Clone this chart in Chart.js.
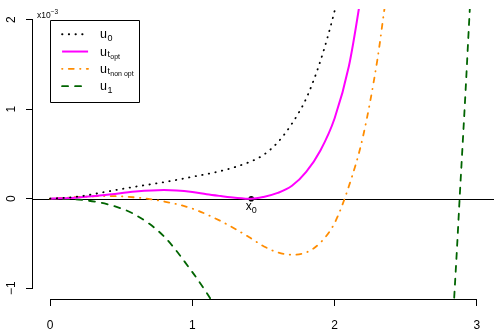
<!DOCTYPE html>
<html>
<head>
<meta charset="utf-8">
<script src="https://cdn.jsdelivr.net/npm/chart.js@4"></script>
<style>
  body { margin: 0; background: #fff; }
  canvas { display: block; }
</style>
</head>
<body>
<canvas id="chart" width="498" height="332"></canvas>
<script>
// values in units of 1e-3
const u0X = [0, 0.2, 0.4, 0.6, 0.8, 1.0, 1.2, 1.4, 1.5, 1.6, 1.7, 1.8, 1.9, 2.0, 2.05];
const u0Y = [0, 0.025, 0.08, 0.135, 0.185, 0.245, 0.31, 0.41, 0.49, 0.63, 0.84, 1.12, 1.54, 2.1, 2.45];

const optX = [0, 0.2, 0.4, 0.6, 0.8, 1.0, 1.1, 1.2, 1.3, 1.414, 1.5, 1.6, 1.7, 1.8, 1.9, 2.0, 2.1, 2.17, 2.2];
const optY = [0, 0.015, 0.045, 0.08, 0.097, 0.075, 0.05, 0.03, 0.012, 0, 0.02, 0.065, 0.145, 0.3, 0.54, 0.9, 1.48, 2.12, 2.45];

const nonOptX = [0, 0.2, 0.4, 0.6, 0.8, 1.0, 1.2, 1.4, 1.5, 1.6, 1.7, 1.8, 1.9, 2.0, 2.1, 2.2, 2.3, 2.35, 2.38];
const nonOptY = [0, 0.02, 0.03, 0.015, -0.03, -0.11, -0.25, -0.43, -0.53, -0.6, -0.625, -0.6, -0.49, -0.27, 0.14, 0.7, 1.55, 2.12, 2.45];

const u1LeftX = [0, 0.2, 0.4, 0.6, 0.8, 1.0, 1.1, 1.16];
const u1LeftY = [0, -0.01, -0.06, -0.18, -0.42, -0.82, -1.05, -1.2];
const u1RightX = [2.835, 2.86, 2.88, 2.9, 2.92, 2.95, 2.96];
const u1RightY = [-1.25, -0.55, 0.05, 0.62, 1.2, 2.12, 2.4];

const x0 = 1.414;

const xTicks = [0, 1, 2, 3];
const yTicks = [-1, 0, 1, 2];

const FONT = '"Liberation Sans", Arial, sans-serif';

function pts(xs, ys) {
  return xs.map((x, i) => ({ x: x, y: ys[i] }));
}

const styles = {
  u0:  { color: '#000000', width: 1.8, dash: [0.4, 6.3], cap: 'round' },
  opt: { color: '#FF00FF', width: 2, dash: [], cap: 'butt' },
  non: { color: '#FF8C00', width: 1.8, dash: [0.4, 6.3, 5, 6.3], cap: 'round' },
  u1:  { color: '#006400', width: 1.8, dash: [6, 7], cap: 'round' }
};

function lineSet(data, s) {
  return {
    data: data,
    borderColor: s.color,
    borderWidth: s.width,
    borderDash: s.dash,
    borderCapStyle: s.cap,
    pointRadius: 0,
    cubicInterpolationMode: 'monotone',
    fill: false
  };
}

const legendItems = [
  { s: styles.u0, sub: '0', subsub: null },
  { s: styles.opt, sub: 't', subsub: 'opt' },
  { s: styles.non, sub: 't', subsub: 'non opt' },
  { s: styles.u1, sub: '1', subsub: null }
];

const decor = {
  id: 'decor',
  beforeDatasetsDraw(chart) {
    const ctx = chart.ctx, a = chart.chartArea, ys = chart.scales.y;
    ctx.save();
    ctx.strokeStyle = '#000';
    ctx.lineWidth = 1;
    ctx.beginPath();
    const y0 = Math.round(ys.getPixelForValue(0)) + 0.5;
    ctx.moveTo(a.left, y0);
    ctx.lineTo(a.right, y0);
    ctx.stroke();
    ctx.restore();
  },
  afterDraw(chart) {
    const ctx = chart.ctx, a = chart.chartArea;
    const xs = chart.scales.x, ys = chart.scales.y;
    ctx.save();
    ctx.strokeStyle = '#000';
    ctx.lineWidth = 1;

    // axis lines
    ctx.beginPath();
    const bx = Math.round(a.bottom) + 0.5;
    ctx.moveTo(xs.getPixelForValue(0), bx);
    ctx.lineTo(xs.getPixelForValue(3), bx);
    const lx = Math.round(a.left) - 0.5;
    ctx.moveTo(lx, ys.getPixelForValue(-1));
    ctx.lineTo(lx, ys.getPixelForValue(2));
    ctx.stroke();

    // y tick labels (rotated)
    ctx.fillStyle = '#000';
    ctx.font = '12px ' + FONT;
    ctx.textAlign = 'center';
    ctx.textBaseline = 'alphabetic';
    yTicks.forEach(v => {
      ctx.save();
      ctx.translate(15, ys.getPixelForValue(v));
      ctx.rotate(-Math.PI / 2);
      ctx.fillText(v < 0 ? '\u2212' + Math.abs(v) : String(v), 0, 0);
      ctx.restore();
    });

    // x10^-3
    ctx.textAlign = 'left';
    const ex = a.left + 4, ey = ys.getPixelForValue(2) - 1.5;
    ctx.font = '8.5px ' + FONT;
    ctx.fillText('x10', ex, ey);
    const w10 = ctx.measureText('x10').width;
    ctx.font = '6.5px ' + FONT;
    ctx.fillText('\u22123', ex + w10, ey - 4);

    // legend
    const L = xs.getPixelForValue(0), T = ys.getPixelForValue(2);
    ctx.beginPath();
    ctx.rect(Math.round(L) + 0.5, Math.round(T) + 0.5, 89, 82);
    ctx.stroke();
    legendItems.forEach((it, i) => {
      const ry = T + 14.5 + i * 17.3;
      ctx.save();
      ctx.strokeStyle = it.s.color;
      ctx.lineWidth = it.s.width;
      ctx.setLineDash(it.s.dash);
      ctx.lineCap = it.s.cap;
      ctx.beginPath();
      ctx.moveTo(L + 12, ry);
      ctx.lineTo(L + 38, ry);
      ctx.stroke();
      ctx.restore();
      let tx = L + 50;
      ctx.font = '12.5px ' + FONT;
      ctx.fillText('u', tx, ry + 4);
      tx += ctx.measureText('u').width + 0.5;
      ctx.font = '9px ' + FONT;
      ctx.fillText(it.sub, tx, ry + (it.subsub ? 5 : 7));
      tx += ctx.measureText(it.sub).width + 0.3;
      if (it.subsub) {
        ctx.font = '7px ' + FONT;
        ctx.fillText(it.subsub, tx, ry + 7.5);
      }
    });

    // x0 label
    const px = xs.getPixelForValue(x0), py = ys.getPixelForValue(0);
    ctx.font = '12px ' + FONT;
    const wx = ctx.measureText('x').width;
    ctx.font = '9px ' + FONT;
    const w0 = ctx.measureText('0').width;
    const sx = px - (wx + w0) / 2;
    ctx.font = '12px ' + FONT;
    ctx.fillText('x', sx, py + 11);
    ctx.font = '9px ' + FONT;
    ctx.fillText('0', sx + wx, py + 14);
    ctx.restore();
  }
};

new Chart(document.getElementById('chart'), {
  type: 'line',
  data: {
    datasets: [
      lineSet(pts(u0X, u0Y), styles.u0),
      lineSet(pts(optX, optY), styles.opt),
      lineSet(pts(nonOptX, nonOptY), styles.non),
      lineSet(pts(u1LeftX, u1LeftY), styles.u1),
      lineSet(pts(u1RightX, u1RightY), styles.u1),
      {
        data: [{ x: x0, y: 0 }],
        showLine: false,
        pointRadius: 2.8,
        pointBackgroundColor: '#000',
        pointBorderColor: '#000',
        pointBorderWidth: 0
      }
    ]
  },
  options: {
    responsive: false,
    animation: false,
    devicePixelRatio: 1,
    layout: { padding: { top: 9, right: 2, left: 0, bottom: 0 } },
    plugins: { legend: { display: false }, tooltip: { enabled: false } },
    scales: {
      x: {
        type: 'linear',
        min: -0.12,
        max: 3.12,
        afterBuildTicks: s => { s.ticks = xTicks.map(v => ({ value: v })); },
        afterFit: s => { s.height = 33; },
        border: { display: false },
        grid: { drawOnChartArea: false, drawTicks: true, tickLength: 7, color: '#000', tickColor: '#000' },
        ticks: { color: '#000', font: { family: FONT, size: 12 }, padding: 12, maxRotation: 0 }
      },
      y: {
        type: 'linear',
        min: -1.12,
        max: 2.12,
        afterBuildTicks: s => { s.ticks = yTicks.map(v => ({ value: v })); },
        afterFit: s => { s.width = 33; },
        border: { display: false },
        grid: { drawOnChartArea: false, drawTicks: true, tickLength: 7, color: '#000', tickColor: '#000' },
        ticks: { display: false }
      }
    }
  },
  plugins: [decor]
});
</script>
</body>
</html>
